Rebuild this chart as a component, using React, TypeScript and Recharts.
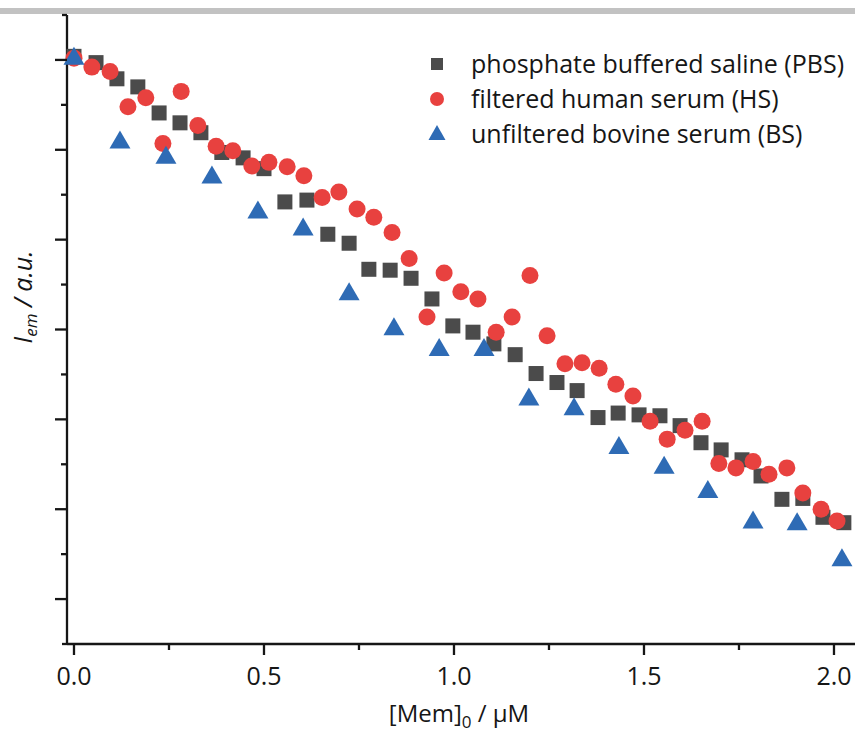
import React from "react";
import { ScatterChart, Scatter, XAxis, YAxis, Legend } from "recharts";

// [Mem]0 in µM, emission intensity in arbitrary units
const pbsX = [0, 0.058, 0.113, 0.168, 0.224, 0.279, 0.334, 0.389, 0.445, 0.5, 0.555, 0.613, 0.668, 0.724, 0.776, 0.832, 0.887, 0.942, 0.997, 1.05, 1.105, 1.161, 1.216, 1.271, 1.324, 1.379, 1.432, 1.487, 1.542, 1.595, 1.65, 1.703, 1.758, 1.808, 1.863, 1.918, 1.971, 2.026];
const pbsY = [6.04, 5.97, 5.79, 5.7, 5.41, 5.3, 5.19, 4.97, 4.91, 4.79, 4.42, 4.44, 4.06, 3.96, 3.67, 3.66, 3.57, 3.34, 3.04, 2.97, 2.84, 2.72, 2.51, 2.41, 2.32, 2.02, 2.07, 2.05, 2.04, 1.93, 1.74, 1.66, 1.55, 1.37, 1.11, 1.12, 0.91, 0.85];

const hsX = [0, 0.047, 0.095, 0.142, 0.189, 0.234, 0.282, 0.326, 0.374, 0.418, 0.468, 0.513, 0.561, 0.605, 0.653, 0.697, 0.745, 0.789, 0.837, 0.882, 0.929, 0.974, 1.018, 1.063, 1.111, 1.153, 1.2, 1.245, 1.292, 1.337, 1.382, 1.426, 1.471, 1.516, 1.561, 1.608, 1.653, 1.697, 1.742, 1.787, 1.829, 1.876, 1.918, 1.966, 2.008];
const hsY = [6.02, 5.92, 5.87, 5.48, 5.58, 5.07, 5.65, 5.27, 5.04, 4.99, 4.82, 4.86, 4.81, 4.71, 4.47, 4.53, 4.34, 4.25, 4.08, 3.79, 3.14, 3.63, 3.42, 3.34, 2.97, 3.14, 3.6, 2.93, 2.62, 2.63, 2.57, 2.39, 2.26, 1.98, 1.78, 1.88, 1.98, 1.51, 1.46, 1.53, 1.39, 1.46, 1.18, 1.0, 0.87];

const bsX = [0, 0.121, 0.242, 0.363, 0.484, 0.603, 0.724, 0.842, 0.961, 1.079, 1.197, 1.316, 1.434, 1.553, 1.668, 1.787, 1.903, 2.021];
const bsY = [6.04, 5.11, 4.94, 4.72, 4.33, 4.14, 3.42, 3.03, 2.8, 2.8, 2.25, 2.14, 1.71, 1.49, 1.22, 0.88, 0.86, 0.46];

const seriesNames = [
  "phosphate buffered saline (PBS)",
  "filtered human serum (HS)",
  "unfiltered bovine serum (BS)",
];

const xMajorTicks = [0, 0.5, 1, 1.5, 2];
const xMinorTicks = [0.25, 0.75, 1.25, 1.75];
const yMajorTicks = [0, 1, 2, 3, 4, 5, 6];
const yMinorTicks = [0.5, 1.5, 2.5, 3.5, 4.5, 5.5];
const yEnds = [-0.5, 6.5];

const FONT = "'Open Sans', sans-serif";
const INK = "#161616";
const GRAY = "#4b4b4b";
const RED = "#e8413f";
const BLUE = "#2e6bb5";

const toPoints = (xs: number[], ys: number[]) => xs.map((x, i) => ({ x, y: ys[i] }));
const pbs = toPoints(pbsX, pbsY);
const hs = toPoints(hsX, hsY);
const bs = toPoints(bsX, bsY);

const SquareMark = (p: any) => (
  <rect x={p.cx - 7.5} y={p.cy - 7.5} width={15} height={15} fill={GRAY} />
);
const DotMark = (p: any) => <circle cx={p.cx} cy={p.cy} r={8.5} fill={RED} />;
const TriMark = (p: any) => (
  <polygon
    points={`${p.cx},${p.cy - 9.5} ${p.cx - 10.5},${p.cy + 8.5} ${p.cx + 10.5},${p.cy + 8.5}`}
    fill={BLUE}
  />
);

const XTick = (props: any) => {
  const { x, y, payload } = props;
  const major = xMajorTicks.includes(payload.value);
  return (
    <g>
      <line x1={x} x2={x} y1={y} y2={y + (major ? 11 : 6)} stroke={INK} strokeWidth={2.3} />
      {major && (
        <text x={x} y={y + 41} textAnchor="middle" fontSize={25} fontFamily={FONT} fill={INK}>
          {payload.value.toFixed(1)}
        </text>
      )}
    </g>
  );
};

const YTick = (props: any) => {
  const { x, y, payload } = props;
  const v = payload.value;
  const len = yEnds.includes(v) ? 5 : yMajorTicks.includes(v) ? 12 : 6;
  return <line x1={x - len} x2={x} y1={y} y2={y} stroke={INK} strokeWidth={2.3} />;
};

// legend drawn in series order, one marker per series
const legendMarks = [
  <rect x={7} y={12} width={12} height={12} fill={GRAY} />,
  <circle cx={13} cy={18} r={7} fill={RED} />,
  <polygon points="13,9 4.5,24 21.5,24" fill={BLUE} />,
];

const LegendBox = () => (
  <div style={{ fontFamily: FONT, fontSize: 25, color: INK }}>
    {seriesNames.map((name, i) => (
      <div key={name} style={{ display: "flex", alignItems: "flex-start", height: 35, lineHeight: "35px" }}>
        <svg width={26} height={35} style={{ marginRight: 21 }}>
          {legendMarks[i]}
        </svg>
        <span style={{ whiteSpace: "nowrap" }}>{name}</span>
      </div>
    ))}
  </div>
);

const YTitle = () => (
  <text
    x={32}
    y={297}
    transform="rotate(-90 32 297)"
    textAnchor="middle"
    fontSize={25}
    fontFamily={FONT}
    fontStyle="italic"
    fill={INK}
  >
    I
    <tspan fontSize={17} dy={5}>em</tspan>
    <tspan dy={-5}> / a.u.</tspan>
  </text>
);

const XTitle = () => (
  <text x={459} y={722} textAnchor="middle" fontSize={24} fontFamily={FONT} fill={INK}>
    [Mem]
    <tspan fontSize={17} dy={6}>0</tspan>
    <tspan dy={-6}> / µM</tspan>
  </text>
);

export default function App() {
  return (
    <div style={{ position: "absolute", left: 0, top: 0, width: 855, height: 733, background: "#fff" }}>
      <div style={{ position: "absolute", left: 0, top: 8, width: 855, height: 6, background: "#c2c2c2" }} />
      <ScatterChart width={855} height={733} margin={{ top: 15, right: 0, bottom: 0, left: 7 }}>
        <XAxis
          type="number"
          dataKey="x"
          domain={[-0.0184, 2.0553]}
          ticks={[...xMajorTicks, ...xMinorTicks]}
          interval={0}
          height={89}
          tickSize={0}
          tickMargin={0}
          tickLine={false}
          axisLine={{ stroke: INK, strokeWidth: 2.3 }}
          tick={<XTick />}
          label={<XTitle />}
        />
        <YAxis
          type="number"
          dataKey="y"
          domain={[-0.5, 6.5]}
          ticks={[...yEnds, ...yMajorTicks, ...yMinorTicks]}
          interval={0}
          width={60}
          tickSize={0}
          tickMargin={0}
          tickLine={false}
          axisLine={{ stroke: INK, strokeWidth: 2.3 }}
          tick={<YTick />}
          label={<YTitle />}
        />
        <Legend
          layout="vertical"
          align="center"
          verticalAlign="middle"
          content={<LegendBox />}
          wrapperStyle={{ left: 424, top: 46, width: 431, height: 105 }}
        />
        <Scatter name={seriesNames[0]} data={pbs} fill={GRAY} shape={SquareMark} legendType="square" isAnimationActive={false} />
        <Scatter name={seriesNames[1]} data={hs} fill={RED} shape={DotMark} legendType="circle" isAnimationActive={false} />
        <Scatter name={seriesNames[2]} data={bs} fill={BLUE} shape={TriMark} legendType="triangle" isAnimationActive={false} />
      </ScatterChart>
    </div>
  );
}
